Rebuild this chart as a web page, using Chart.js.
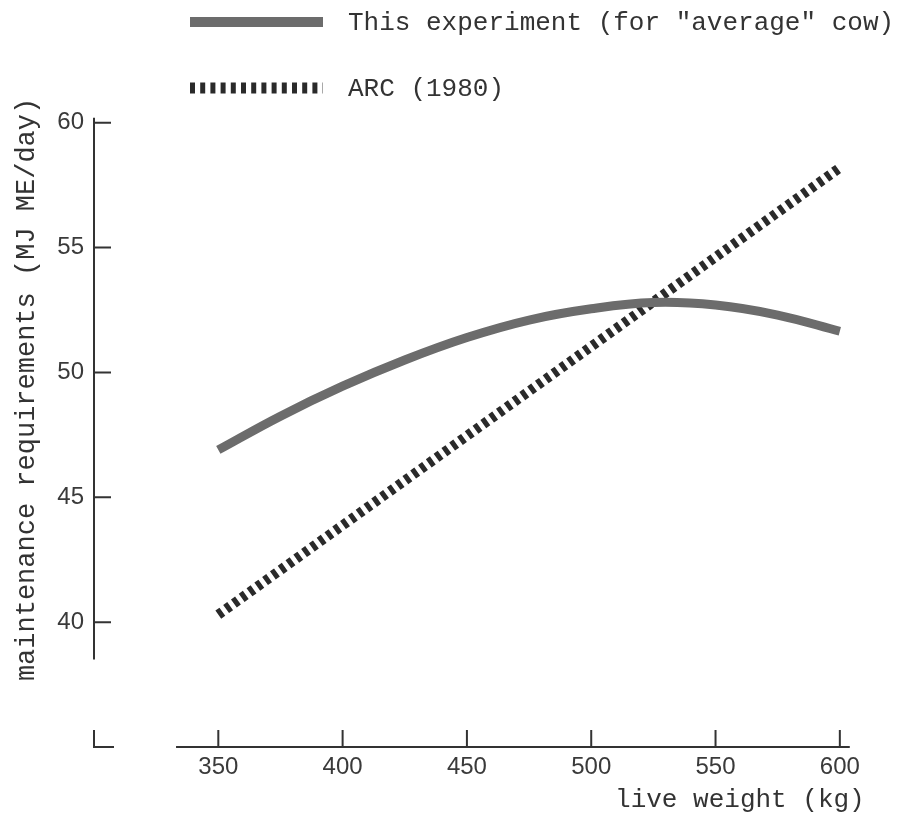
<!DOCTYPE html>
<html><head><meta charset="utf-8">
<script src="https://cdn.jsdelivr.net/npm/chart.js@4.4.0/dist/chart.umd.min.js"></script>
<style>html,body{margin:0;padding:0;background:#fff;}canvas{display:block;}</style>
</head><body>
<canvas id="c" width="902" height="816"></canvas>
<script>
// ---- data ----
const weights = [350, 375, 400, 425, 450, 475, 500, 525, 550, 575, 600];
const experimentME = [46.9, 48.25, 49.45, 50.5, 51.4, 52.1, 52.55, 52.8, 52.7, 52.3, 51.65];
const arcWeights = [350, 600];
const arcME = [40.3, 58.2];
const xTickValues = [350, 400, 450, 500, 550, 600];
const yTickValues = [40, 45, 50, 55, 60];
const seriesLabels = ['This experiment (for "average" cow)', 'ARC (1980)'];
const xTitle = 'live weight (kg)';
const yTitle = 'maintenance requirements (MJ ME/day)';
const xRange = [300, 610];
const yRange = [35, 61];
const xAxisSpan = [333, 604];
const yAxisSpan = [38.5, 60.2];

const MONO = "'Liberation Mono', 'DejaVu Sans Mono', monospace";
const SANS = "'Liberation Sans', 'DejaVu Sans', sans-serif";

const axesPlugin = {
  id: 'brokenAxes',
  beforeDatasetsDraw(chart, args, opts) {
    const {ctx} = chart; const x = chart.scales.x, y = chart.scales.y;
    ctx.save();
    ctx.strokeStyle = opts.color; ctx.lineWidth = opts.width; ctx.lineCap = 'butt';
    const x0 = x.getPixelForValue(xRange[0]);
    const y0 = y.getPixelForValue(yRange[0]);
    ctx.beginPath();
    ctx.moveTo(x0, y.getPixelForValue(yAxisSpan[0]));
    ctx.lineTo(x0, y.getPixelForValue(yAxisSpan[1]));
    y.ticks.forEach(t => { const py = y.getPixelForValue(t.value); ctx.moveTo(x0, py); ctx.lineTo(x0 + opts.tickLen, py); });
    ctx.moveTo(x.getPixelForValue(xAxisSpan[0]), y0);
    ctx.lineTo(x.getPixelForValue(xAxisSpan[1]), y0);
    x.ticks.forEach(t => { const px = x.getPixelForValue(t.value); ctx.moveTo(px, y0); ctx.lineTo(px, y0 - opts.tickLen); });
    ctx.moveTo(x0, y0 - opts.cornerV);
    ctx.lineTo(x0, y0);
    ctx.lineTo(x0 + opts.cornerH, y0);
    ctx.stroke();
    ctx.restore();
  }
};

const legendPlugin = {
  id: 'typedLegend',
  afterDraw(chart, args, opts) {
    const {ctx} = chart;
    ctx.save();
    chart.data.datasets.forEach((ds, i) => {
      const yy = opts.rows[i];
      ctx.beginPath();
      ctx.strokeStyle = ds.borderColor;
      ctx.lineWidth = opts.sampleWidths[i];
      ctx.setLineDash(opts.sampleDashes[i]);
      ctx.lineCap = 'butt';
      ctx.moveTo(opts.x, yy); ctx.lineTo(opts.x + opts.len, yy);
      ctx.stroke();
      ctx.setLineDash([]);
      ctx.fillStyle = opts.color;
      ctx.font = opts.font;
      ctx.textBaseline = 'middle';
      ctx.textAlign = 'left';
      ctx.fillText(ds.label, opts.textX, yy + 1);
    });
    ctx.restore();
  }
};

new Chart(document.getElementById('c'), {
  type: 'line',
  data: {
    datasets: [
      {
        label: seriesLabels[0],
        data: weights.map((w, i) => ({x: w, y: experimentME[i]})),
        borderColor: '#6c6c6c', borderWidth: 9, pointRadius: 0,
        tension: 0.4, borderCapStyle: 'butt', fill: false
      },
      {
        label: seriesLabels[1],
        data: arcWeights.map((w, i) => ({x: w, y: arcME[i]})),
        borderColor: '#2a2a2a', borderWidth: 10, borderDash: [5, 4.6], pointRadius: 0,
        borderCapStyle: 'butt', fill: false
      }
    ]
  },
  options: {
    responsive: false, animation: false, devicePixelRatio: 1,
    layout: {padding: {top: 97.8, right: 37.3, bottom: 0, left: 0}},
    plugins: {
      legend: {display: false}, tooltip: {enabled: false},
      brokenAxes: {color: '#333', width: 2, tickLen: 17, cornerV: 17, cornerH: 20},
      typedLegend: {x: 190, len: 133, textX: 348, rows: [22, 88], sampleWidths: [10, 11],
        sampleDashes: [[], [5, 5.2]], color: '#333', font: '26px ' + MONO}
    },
    scales: {
      x: {
        type: 'linear', min: xRange[0], max: xRange[1],
        grid: {display: false, drawTicks: false}, border: {display: false},
        afterBuildTicks: s => { s.ticks = xTickValues.map(v => ({value: v})); },
        afterFit: s => { s.height = 69; },
        ticks: {autoSkip: false, maxRotation: 0, padding: 6, color: '#3a3a3a',
          font: {family: SANS, size: 24}, callback: v => String(v)},
        title: {display: true, text: xTitle, align: 'end', color: '#333',
          font: {family: MONO, size: 26}, padding: {top: 0, bottom: 0}}
      },
      y: {
        type: 'linear', min: yRange[0], max: yRange[1],
        grid: {display: false, drawTicks: false}, border: {display: false},
        afterBuildTicks: s => { s.ticks = yTickValues.map(v => ({value: v})); },
        afterFit: s => { s.width = 94; },
        ticks: {autoSkip: false, padding: 10, color: '#3a3a3a',
          font: {family: SANS, size: 24}, callback: v => String(v)},
        title: {display: true, text: yTitle, align: 'end', color: '#333',
          font: {family: MONO, size: 27}, padding: {top: 11, bottom: 0}}
      }
    }
  },
  plugins: [axesPlugin, legendPlugin]
});
</script>
</body></html>
